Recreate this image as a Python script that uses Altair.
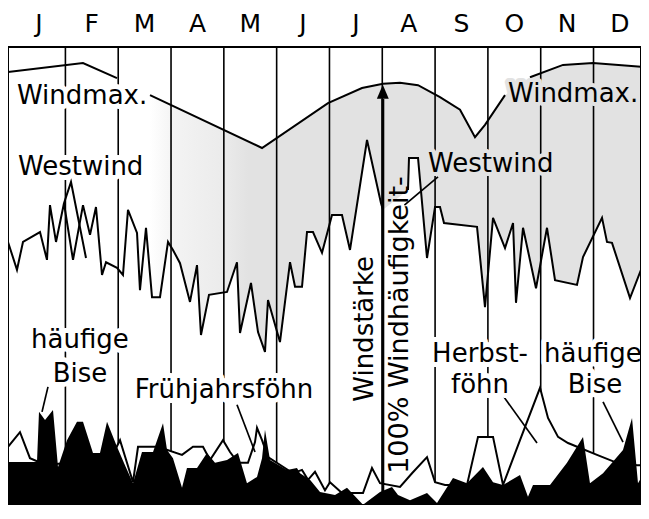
import altair as alt
import pandas as pd

FONT = "DejaVu Sans"
XMIN, XMAX = -0.087, 11.899
YMIN, YMAX = 2.97, 100.0

months = ["J", "F", "M", "A", "M", "J", "J", "A", "S", "O", "N", "D"]
month_bounds = list(range(1, 12))

# Windmax curve (x in months, y relative 0-100); seg = drawn piece
windmax_x = [-0.087, 1.333, 1.977, 2.602, 4.723, 5.972, 6.616, 7.014, 7.336, 7.677,
             8.093, 8.472, 8.756, 8.945, 9.324, 9.797, 10.422, 10.990, 11.899]
windmax_y = [94.7, 96.6, 93.4, 89.8, 78.6, 88.1, 91.3, 92.2, 92.4, 91.9,
             89.4, 86.7, 80.9, 83.5, 89.8, 93.6, 96.2, 96.6, 95.8]
windmax_seg = [0, 0, 0, 1, 1, 1, 1, 1, 1, 1, 1, 1, 1, 1, 1, 2, 2, 2, 2]

# Westwind curve
west_x = [-0.087, 0.083, 0.197, 0.519, 0.651, 0.708, 0.822, 0.973, 1.144, 1.333,
          1.466, 1.579, 1.693, 1.769, 1.977, 2.090, 2.185, 2.356, 2.412, 2.526,
          2.640, 2.791, 2.943, 3.037, 3.170, 3.359, 3.492, 3.567, 3.719, 4.060,
          4.249, 4.306, 4.514, 4.647, 4.779, 4.836, 5.063, 5.253, 5.348, 5.480,
          5.575, 5.688, 5.859, 6.048, 6.237, 6.389, 6.711, 6.976, 7.014,
          7.487, 7.506, 7.677, 7.847, 7.999, 8.093, 8.169, 8.794, 8.945, 9.097,
          9.324, 9.476, 9.532, 9.665, 9.911, 10.119, 10.271, 10.687, 10.801, 11.161,
          11.255, 11.350, 11.691, 11.899]
west_y = [58.7, 52.8, 58.7, 60.8, 54.9, 66.5, 58.7, 66.9, 54.9, 66.5,
          60.2, 66.1, 51.7, 54.4, 53.2, 51.7, 65.5, 60.6, 48.5, 61.7,
          47.0, 47.0, 58.7, 57.0, 54.2, 46.0, 53.8, 39.0, 47.5, 48.1,
          54.4, 39.4, 50.0, 39.6, 35.4, 46.4, 37.5, 54.4, 49.2, 49.2,
          60.8, 60.8, 56.4, 64.4, 64.4, 57.0, 80.3, 66.9, 65.5,
          69.7, 76.5, 76.5, 55.3, 66.1, 66.1, 62.7, 61.9, 44.9, 63.8,
          57.4, 62.7, 45.8, 61.7, 48.9, 61.7, 50.6, 49.6, 55.5, 63.8,
          58.7, 58.5, 46.8, 52.8]
west_extra_x = [0.973, 1.106, 1.390]
west_extra_y = [66.9, 71.4, 55.3]

# Bise (black) frequency
bise_x = [-0.087, 0.462, 0.500, 0.614, 0.765, 0.860, 1.030, 1.219, 1.333, 1.522,
          1.655, 1.788, 1.977, 2.128, 2.280, 2.450, 2.659, 2.848, 2.924, 3.037,
          3.208, 3.302, 3.492, 3.681, 3.833, 4.060, 4.268, 4.438, 4.628, 4.723,
          4.779, 4.874, 5.196, 5.385, 5.442, 5.631, 5.821, 6.105, 6.332, 6.635,
          6.957, 7.184, 7.298, 7.525, 7.847, 8.036, 8.339, 8.604, 8.907, 9.097,
          9.286, 9.608, 9.759, 9.854, 10.176, 10.498, 10.801, 10.933, 11.180, 11.558,
          11.729, 11.842, 11.899]
bise_y = [12.1, 12.1, 22.7, 21.0, 23.1, 11.0, 16.7, 20.6, 20.6, 14.0,
          14.0, 20.6, 15.3, 11.4, 7.6, 14.2, 14.2, 20.3, 14.6, 12.9,
          6.6, 10.8, 10.8, 14.0, 11.9, 12.5, 14.0, 7.6, 8.9, 12.9,
          18.9, 12.5, 10.4, 10.8, 9.7, 8.3, 5.7, 5.1, 6.6, 3.0,
          5.7, 6.8, 5.1, 4.0, 5.5, 3.4, 8.7, 7.6, 11.0, 7.8,
          7.2, 9.3, 4.7, 7.2, 7.2, 11.9, 17.4, 7.6, 9.7, 14.6,
          21.4, 7.6, 8.7]

# Foehn frequency (white with outline)
foehn_x = [-0.087, 0.140, 0.329, 0.614, 1.844, 2.034, 2.280, 2.375, 2.753, 3.208,
           3.416, 3.605, 3.738, 3.984, 4.117, 4.268, 4.457, 4.590, 4.628, 4.723,
           4.836, 5.310, 5.480, 5.594, 5.726, 5.915, 6.010, 6.237, 6.635, 6.805,
           6.957, 7.336, 7.563, 7.847, 7.999, 8.188, 8.604, 8.813, 9.097, 9.286,
           9.608, 9.987, 10.138, 10.328, 10.517, 11.066, 11.445, 11.823, 11.899]
foehn_y = [15.3, 18.4, 12.9, 11.5, 12.5, 16.7, 7.8, 15.3, 15.3, 13.6,
           15.3, 15.3, 12.5, 16.7, 14.2, 11.9, 11.9, 16.3, 19.3, 16.7,
           13.1, 9.7, 10.4, 8.3, 10.0, 6.1, 7.8, 5.5, 5.5, 10.8,
           7.6, 6.8, 9.7, 13.1, 7.8, 7.2, 7.2, 17.4, 17.4, 7.2,
           16.7, 27.8, 21.4, 17.4, 16.1, 13.6, 11.9, 11.4, 11.4]

# leader lines
lead_x1 = [0.670, 4.249, 9.275, 11.180, 8.055]
lead_y1 = [28.0, 24.2, 26.3, 24.8, 72.5]
lead_x2 = [0.557, 4.590, 9.930, 11.558, 7.419]
lead_y2 = [22.7, 14.2, 16.1, 16.3, 66.5]

arrow_x = 7.01
arrow_top = 89.0

# labels
lab_left_white = [("Windmax.", 0.083, 87.9), ("Westwind", 0.102, 72.9)]
lab_left_gray = [("Windmax.", 9.381, 88.3), ("Westwind", 7.866, 73.5)]
lab_center = [("häufige", 1.276, 36.2), ("Bise", 1.276, 29.0),
              ("Frühjahrsföhn", 4.003, 25.6),
              ("Herbst-", 8.851, 33.3), ("föhn", 8.851, 26.7),
              ("häufige", 10.990, 33.3), ("Bise", 11.028, 26.7)]
lab_vert1 = [("Windstärke", 6.824, 40.3)]
lab_vert2 = [("100% Windhäufigkeit-", 7.487, 41.1)]

STIPPLE = "#e2e2e2"

xs = alt.Scale(domain=[XMIN, XMAX], nice=False, zero=False)
ys = alt.Scale(domain=[YMIN, YMAX], nice=False, zero=False)


def X(f):
    return alt.X(f, type="quantitative", scale=xs, axis=None)


def Y(f):
    return alt.Y(f, type="quantitative", scale=ys, axis=None)


wm = pd.DataFrame({"x": windmax_x, "y": windmax_y, "seg": windmax_seg})
wm["i"] = range(len(wm))
n0 = 49
west = pd.DataFrame({"x": west_x, "y": west_y,
                     "seg": [0] * n0 + [1] * (len(west_x) - n0)})
west["i"] = range(len(west))
west_extra = pd.DataFrame({"x": west_extra_x, "y": west_extra_y, "seg": 2})
west_extra["i"] = range(len(west_extra))
west_lines = pd.concat([west, west_extra], ignore_index=True)
bise = pd.DataFrame({"x": bise_x, "y": bise_y})
foehn = pd.DataFrame({"x": foehn_x, "y": foehn_y})
grid = pd.DataFrame({"x": month_bounds, "y0": YMIN, "y1": YMAX})
lead = pd.DataFrame({"x1": lead_x1, "y1": lead_y1, "x2": lead_x2, "y2": lead_y2})
mon = pd.DataFrame({"text": months, "x": [i + 0.5 for i in range(12)], "y": 103.2})

stipple = alt.LinearGradient(
    gradient="linear", x1=0, x2=1, y1=0, y2=0,
    stops=[alt.GradientStop(color="#ffffff", offset=0),
           alt.GradientStop(color="#f3f3f3", offset=0.05),
           alt.GradientStop(color="#ebebeb", offset=0.15),
           alt.GradientStop(color=STIPPLE, offset=0.2),
           alt.GradientStop(color=STIPPLE, offset=1)])

LW = 2.0
layers = []
layers.append(alt.Chart(wm[wm.seg >= 1]).mark_area(clip=True, color=stipple)
              .encode(x=X("x"), y=Y("y")))
layers.append(alt.Chart(west).mark_area(clip=True, color="white")
              .encode(x=X("x"), y=Y("y")))
layers.append(alt.Chart(grid).mark_rule(clip=True, color="black", strokeWidth=1.6)
              .encode(x=X("x"), y=Y("y0"), y2="y1"))
layers.append(alt.Chart(wm).mark_line(clip=True, color="black", strokeWidth=LW)
              .encode(x=X("x"), y=Y("y"), detail="seg:N", order="i:Q"))
layers.append(alt.Chart(west_lines).mark_line(clip=True, color="black", strokeWidth=LW)
              .encode(x=X("x"), y=Y("y"), detail="seg:N", order="i:Q"))
layers.append(alt.Chart(foehn).mark_area(clip=True, color="white")
              .encode(x=X("x"), y=Y("y")))
layers.append(alt.Chart(foehn).mark_line(clip=True, color="black", strokeWidth=LW)
              .encode(x=X("x"), y=Y("y")))
layers.append(alt.Chart(bise).mark_area(clip=True, color="black")
              .encode(x=X("x"), y=Y("y")))
arrow = pd.DataFrame({"x": [arrow_x], "y0": [YMIN], "y1": [arrow_top], "yh": [90.5]})
layers.append(alt.Chart(arrow).mark_rule(color="black", strokeWidth=3)
              .encode(x=X("x"), y=Y("y0"), y2="y1"))
layers.append(alt.Chart(arrow).mark_point(shape="M0,-1L0.85,1L-0.85,1Z", filled=True,
                                          size=196, color="black", opacity=1)
              .encode(x=X("x"), y=Y("yh")))
layers.append(alt.Chart(lead).mark_rule(color="black", strokeWidth=1.7)
              .encode(x=X("x1"), y=Y("y1"), x2="x2", y2="y2"))


def texts(rows, align, size, angle=0, halo="", halo_w=10):
    df = pd.DataFrame(rows, columns=["text", "x", "y"])
    out = []
    if halo:
        out.append(alt.Chart(df).mark_text(font=FONT, fontSize=size, align=align,
                                           baseline="alphabetic", angle=angle,
                                           color=halo, stroke=halo, strokeWidth=halo_w,
                                           strokeJoin="round")
                   .encode(x=X("x"), y=Y("y"), text="text:N"))
    out.append(alt.Chart(df).mark_text(font=FONT, fontSize=size, align=align,
                                       baseline="alphabetic", angle=angle, color="black")
               .encode(x=X("x"), y=Y("y"), text="text:N"))
    return out


layers += texts(lab_left_white, "left", 26, halo="white", halo_w=10)
layers += texts(lab_left_gray, "left", 26, halo=STIPPLE, halo_w=8)
layers += texts(lab_center, "center", 26, halo="white", halo_w=10)
layers += texts(lab_vert1, "center", 26, angle=270)
layers += texts(lab_vert2, "center", 27, angle=270)
layers.append(alt.Chart(mon).mark_text(font=FONT, fontSize=25, align="center",
                                       baseline="alphabetic", color="black")
              .encode(x=X("x"), y=Y("y"), text="text:N"))
frame = pd.DataFrame({"x0": [XMIN], "x1": [XMAX], "y0": [YMIN], "y1": [YMAX]})
layers.append(alt.Chart(frame).mark_rect(filled=False, stroke="black", strokeWidth=2)
              .encode(x=X("x0"), x2="x1", y=Y("y0"), y2="y1"))

chart = alt.layer(*layers).properties(
    width=633, height=458,
    padding={"left": 0, "top": 39, "right": 0, "bottom": 0},
    autosize=alt.AutoSizeParams(type="none"),
).configure_view(stroke=None)

chart.save("out.html", embed_options={"renderer": "svg", "actions": False})
